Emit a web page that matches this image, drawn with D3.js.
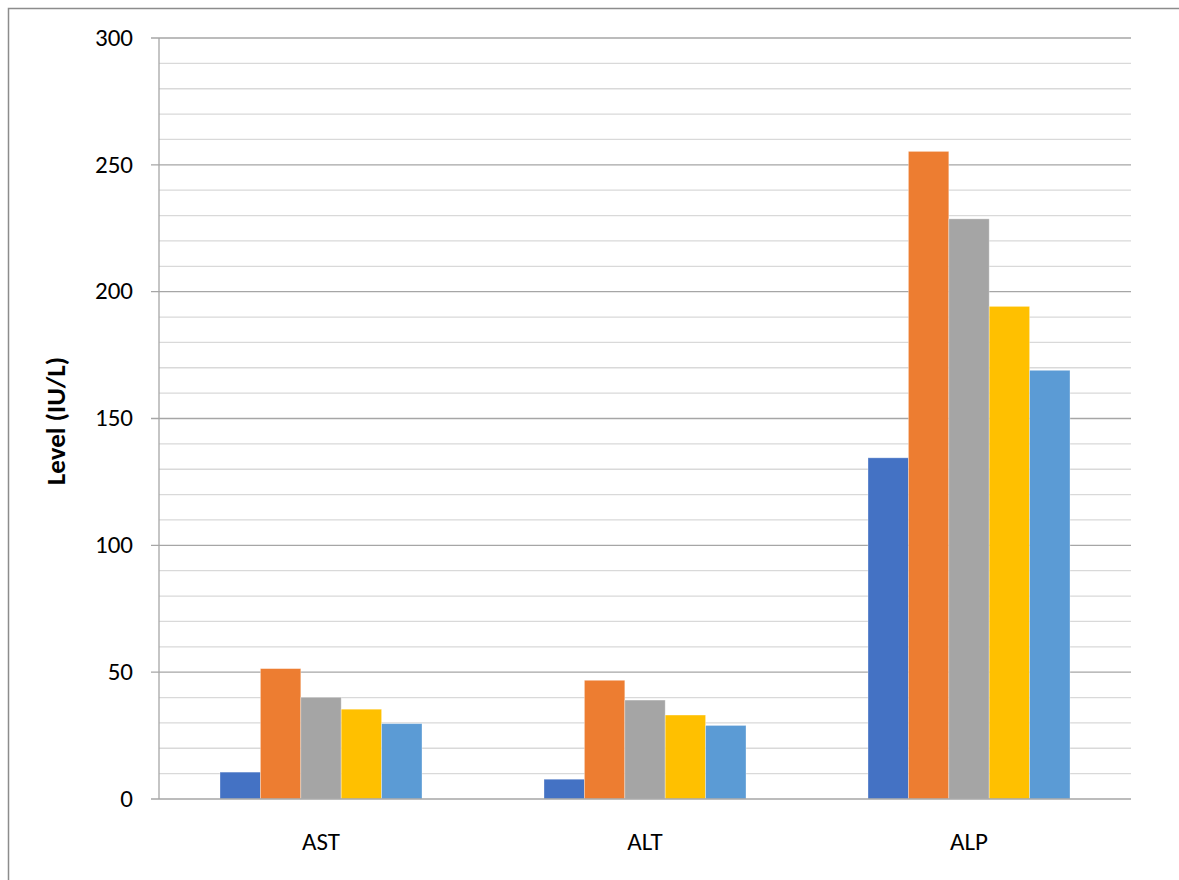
<!DOCTYPE html>
<html>
<head>
<meta charset="utf-8">
<script src="https://cdn.jsdelivr.net/npm/d3@7"></script>
<style>
  body { margin: 0; background: #fff; }
  text { font-family: Carlito, "Open Sans", "Liberation Sans", sans-serif; fill: #000; }
</style>
</head>
<body>
<svg id="chart" width="1179" height="880"></svg>
<script>
  // data
  const categories = ['AST', 'ALT', 'ALP'];
  const seriesNames = ['s1', 's2', 's3', 's4', 's5'];
  const seriesValues = [
    [10.6, 7.8, 134.5],
    [51.4, 46.8, 255.3],
    [40.1, 39.0, 228.7],
    [35.4, 33.1, 194.2],
    [29.7, 29.0, 169.0]
  ];
  const seriesColors = ['#4472C4', '#ED7D31', '#A5A5A5', '#FFC000', '#5B9BD5'];
  const majorTicks = [0, 50, 100, 150, 200, 250, 300];
  const minorTicks = d3.range(0, 301, 10);

  const svg = d3.select('#chart');
  const plotL = 159, plotR = 1131, plotT = 38, plotB = 799;

  // outer frame
  svg.append('rect')
      .attr('x', 8.5).attr('y', 8.5)
      .attr('width', 1200).attr('height', 900)
      .attr('fill', 'none')
      .attr('stroke', '#8c8c8c')
      .attr('stroke-width', 1.5);

  const y = d3.scaleLinear().domain([0, 300]).range([plotB, plotT]);
  const x0 = d3.scaleBand().domain(categories).range([plotL, plotR]);
  const groupW = x0.bandwidth() * 202 / 324;
  const x1 = d3.scaleBand().domain(seriesNames)
      .range([(x0.bandwidth() - groupW) / 2, (x0.bandwidth() + groupW) / 2]);

  // gridlines
  svg.append('g').selectAll('line')
      .data(minorTicks.filter(d => d % 50 !== 0))
      .enter().append('line')
      .attr('x1', plotL).attr('x2', plotR)
      .attr('y1', d => y(d)).attr('y2', d => y(d))
      .attr('stroke', '#d9d9d9').attr('stroke-width', 1.3);

  svg.append('g').selectAll('line')
      .data(majorTicks.filter(d => d > 0))
      .enter().append('line')
      .attr('x1', plotL - 8).attr('x2', plotR)
      .attr('y1', d => y(d)).attr('y2', d => y(d))
      .attr('stroke', '#a6a6a6').attr('stroke-width', 1.3);

  // bars
  const groups = svg.append('g').selectAll('g')
      .data(categories)
      .enter().append('g')
      .attr('transform', d => 'translate(' + x0(d) + ',0)');

  groups.selectAll('rect')
      .data((c, ci) => seriesNames.map((s, si) => ({ s, si, v: seriesValues[si][ci] })))
      .enter().append('rect')
      .attr('x', d => x1(d.s))
      .attr('y', d => y(d.v))
      .attr('width', x1.bandwidth())
      .attr('height', d => y(0) - y(d.v))
      .attr('fill', d => seriesColors[d.si])
      .attr('stroke', '#fff')
      .attr('stroke-opacity', 0.4)
      .attr('stroke-width', 0.8);

  // axis lines
  svg.append('line')
      .attr('x1', plotL).attr('x2', plotL)
      .attr('y1', plotT).attr('y2', plotB)
      .attr('stroke', '#a6a6a6').attr('stroke-width', 1.3);
  svg.append('line')
      .attr('x1', plotL - 8).attr('x2', plotR)
      .attr('y1', plotB).attr('y2', plotB)
      .attr('stroke', '#a6a6a6').attr('stroke-width', 1.3);

  // y labels
  svg.append('g').selectAll('text')
      .data(majorTicks)
      .enter().append('text')
      .attr('x', 133)
      .attr('y', d => y(d) + 7.8)
      .attr('text-anchor', 'end')
      .style('font-size', '25px')
      .text(d => d);

  // x labels
  svg.append('g').selectAll('text')
      .data(categories)
      .enter().append('text')
      .attr('x', d => x0(d) + x0.bandwidth() / 2)
      .attr('y', 850)
      .attr('text-anchor', 'middle')
      .style('font-size', '25px')
      .text(d => d);

  // y title
  svg.append('text')
      .attr('transform', 'translate(65,421) rotate(-90)')
      .attr('text-anchor', 'middle')
      .style('font-size', '27px')
      .style('font-weight', 'bold')
      .text('Level (IU/L)');
</script>
</body>
</html>
